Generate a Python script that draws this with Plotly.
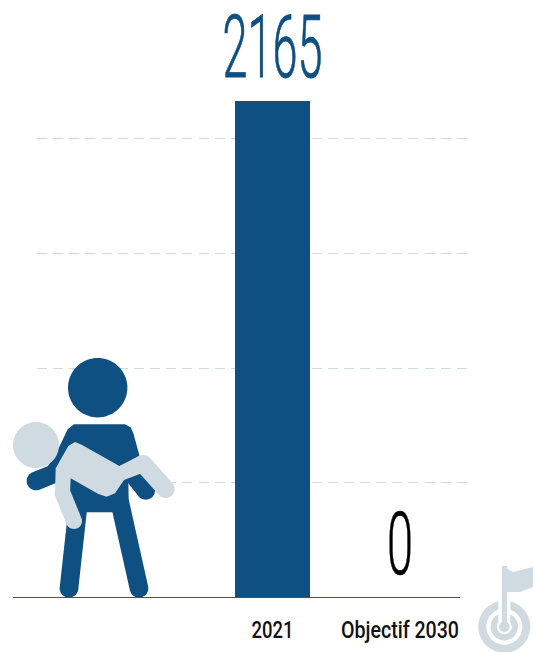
import math
import plotly.graph_objects as go

# Data
categories = ["2021", "Objectif 2030"]
values = [2165, 0]
value_colors = ["#0f5083", "#000000"]
grid_values = [500, 1000, 1500, 2000]

W, H = 533, 652
BLUE = "#0f5083"
LIGHT = "#cfdae1"
FONT = "Roboto"


def px(x, y):
    return f"{x / W:.5f},{1 - y / H:.5f}"


def poly(points):
    return "M" + "L".join(px(x, y) for x, y in points) + "Z"


def circle(cx, cy, r, rev=False, n=72):
    s = -1 if rev else 1
    return [(cx + r * math.cos(s * 2 * math.pi * i / n), cy + r * math.sin(s * 2 * math.pi * i / n)) for i in range(n)]


def capsule(x1, y1, x2, y2, r, n=16):
    a = math.atan2(y2 - y1, x2 - x1)
    pts = []
    for i in range(n + 1):
        t = a + math.pi / 2 + math.pi * i / n
        pts.append((x1 + r * math.cos(t), y1 + r * math.sin(t)))
    for i in range(n + 1):
        t = a - math.pi / 2 + math.pi * i / n
        pts.append((x2 + r * math.cos(t), y2 + r * math.sin(t)))
    return pts


def z(points):
    # icon outlines traced in the 3x crop starting at (0, 340)
    return [(x / 3, 340 + y / 3) for x, y in points]


def zc(x1, y1, x2, y2, r):
    (a, b), (c, d) = z([(x1, y1), (x2, y2)])
    return capsule(a, b, c, d, r / 3)


def shape(path, color):
    return dict(type="path", xref="paper", yref="paper", path=path, fillcolor=color,
                line=dict(width=0), layer="above")


shapes = [
    dict(type="line", xref="paper", yref="paper", x0=13 / W, x1=460 / W, y0=1 - 597.5 / H, y1=1 - 597.5 / H,
         line=dict(color="#2a5a88", width=1), layer="above"),
]

# person (blue)
person = [
    circle(97.7, 387.7, 29.7),
    z([(222, 253), (375, 253), (392, 262), (400, 280), (418, 345), (385, 430), (387, 517), (260, 517),
       (210, 517), (195, 410), (140, 385), (178, 320), (203, 268)]),
    zc(108, 423, 185, 392, 28),
    zc(385, 385, 437, 451, 28),
    zc(235, 490, 207, 745, 28),
    zc(360, 490, 417, 745, 28),
]
shapes += [shape(poly(p), BLUE) for p in person]

# carried figure (light)
carried = [
    circle(36, 445, 23),
    z([(167, 385), (205, 318), (225, 306), (245, 314), (358, 378), (418, 347), (440, 355), (425, 400),
       (372, 420), (345, 460), (320, 470), (295, 462), (212, 415), (210, 458), (165, 460)]),
    zc(430, 372, 497, 447, 27),
    zc(188, 460, 222, 543, 24),
]
shapes += [shape(poly(p), LIGHT) for p in carried]

# target + flag
cx, cy = 504.3, 626.7
for ro, ri in [(26, 18), (13.7, 7.5)]:
    shapes.append(shape(poly(circle(cx, cy, ro)) + poly(circle(cx, cy, ri, rev=True)), LIGHT))
shapes.append(shape(poly(capsule(cx, 566, cx, cy - 6, 6)), "white"))
shapes.append(shape(poly(circle(cx, cy, 5.2)), LIGHT))
shapes.append(shape(poly([(502, 566), (507, 566), (507, cy), (502, cy)]), LIGHT))
shapes.append(shape(poly([(506, 568), (513, 572), (533, 567), (533, 587), (520, 592), (506, 592)]), LIGHT))

fig = go.Figure(
    go.Bar(
        x=categories,
        y=values,
        width=75 / 127.5,
        marker=dict(color=BLUE, line=dict(width=0)),
        text=[str(v) for v in values],
        textposition="outside",
        constraintext="none",
        textfont=dict(family=FONT, size=88, color=value_colors, weight=300),
        cliponaxis=False,
        hoverinfo="skip",
    )
)

fig.update_layout(
    width=W,
    height=H,
    margin=dict(l=0, r=0, t=0, b=0, autoexpand=False),
    paper_bgcolor="white",
    plot_bgcolor="white",
    showlegend=False,
    shapes=shapes,
    xaxis=dict(
        type="category",
        automargin=False,
        categoryorder="array",
        categoryarray=categories,
        domain=[37 / W, 467 / W],
        range=[-235.5 / 127.5, 194.5 / 127.5],
        showgrid=False,
        zeroline=False,
        showline=False,
        ticks="",
        ticklabelstandoff=15,
        tickfont=dict(family=FONT, size=24, color="#111111", weight=500),
        tickangle=0,
    ),
    yaxis=dict(
        automargin=False,
        domain=[54.5 / H, 1],
        range=[0, 597.5 / (496.5 / 2165)],
        tickvals=grid_values,
        showticklabels=False,
        ticks="",
        zeroline=False,
        showline=False,
        showgrid=True,
        gridcolor="#cfdbe3",
        griddash="10px,6.15px",
        gridwidth=1,
    ),
)

post = """
document.documentElement.style.cssText = 'margin:0;padding:0;overflow:hidden';
document.body.style.cssText = 'margin:0;padding:0;overflow:hidden';
var gd = document.querySelector('.plotly-graph-div');
function fit(){
  var w = {'2165':100,'0':26,'2021':42,'Objectif 2030':118};
  var heavy = {'2165':0.9,'0':0.6};
  gd.querySelectorAll('text').forEach(function(t){
    var k = t.textContent.trim();
    if (w[k]) { t.setAttribute('textLength', w[k]); t.setAttribute('lengthAdjust','spacingAndGlyphs'); }
    if (heavy[k]) { t.style.stroke = t.style.fill; t.style.strokeWidth = heavy[k] + 'px'; }
  });
}
fit(); gd.on('plotly_afterplot', fit);
"""
fig.write_html(
    "out.html",
    default_width=W,
    default_height=H,
    config=dict(displayModeBar=False, responsive=False),
    post_script=post,
)
